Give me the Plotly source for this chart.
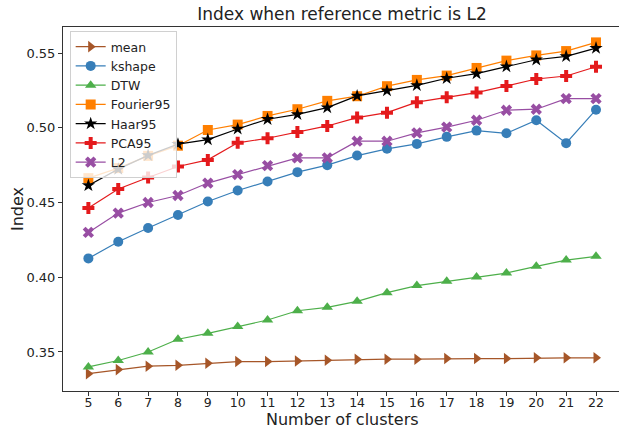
import plotly.graph_objects as go

clusters = list(range(5, 23))

mean = [0.3355, 0.3382, 0.3405, 0.3411, 0.3424, 0.3436, 0.3436, 0.3440, 0.3445,
        0.3452, 0.3452, 0.3452, 0.3456, 0.3456, 0.3456, 0.3461, 0.3461, 0.3461]
kshape = [0.4126, 0.4237, 0.4329, 0.4416, 0.4507, 0.4580, 0.4640, 0.4703, 0.4750,
          0.4814, 0.4859, 0.4892, 0.4939, 0.4981, 0.4963, 0.5050, 0.4897, 0.5121]
dtw = [0.3400, 0.3443, 0.3500, 0.3585, 0.3625, 0.3670, 0.3714, 0.3776, 0.3799,
       0.3839, 0.3897, 0.3944, 0.3973, 0.4001, 0.4028, 0.4073, 0.4115, 0.4140]
fourier95 = [0.4663, 0.4730, 0.4812, 0.4880, 0.4985, 0.5021, 0.5079, 0.5124, 0.5180,
             0.5211, 0.5278, 0.5320, 0.5349, 0.5400, 0.5449, 0.5484, 0.5513, 0.5571]
haar95 = [0.4614, 0.4723, 0.4815, 0.4890, 0.4921, 0.4992, 0.5057, 0.5090, 0.5135,
          0.5213, 0.5248, 0.5284, 0.5331, 0.5362, 0.5409, 0.5455, 0.5478, 0.5533]
pca95 = [0.4463, 0.4590, 0.4667, 0.4741, 0.4785, 0.4899, 0.4930, 0.4972, 0.5012,
         0.5068, 0.5101, 0.5171, 0.5204, 0.5235, 0.5280, 0.5326, 0.5346, 0.5408]
l2 = [0.4300, 0.4429, 0.4500, 0.4547, 0.4630, 0.4687, 0.4747, 0.4799, 0.4799,
      0.4910, 0.4910, 0.4966, 0.5004, 0.5050, 0.5117, 0.5124, 0.5195, 0.5195]

series = [
    ("mean", mean, "#a65628", "triangle-right", 10),
    ("kshape", kshape, "#377eb8", "circle", 10),
    ("DTW", dtw, "#4daf4a", "triangle-up", 10),
    ("Fourier95", fourier95, "#ff7f00", "square", 10),
    ("Haar95", haar95, "#000000", "star", 10),
    ("PCA95", pca95, "#e41a1c", "cross", 10),
    ("L2", l2, "#984ea3", "x", 10),
]

fig = go.Figure()
for name, vals, color, sym, size in series:
    fig.add_trace(go.Scatter(
        x=clusters, y=vals, name=name, mode="lines+markers",
        line=dict(color=color, width=1.2),
        marker=dict(symbol=sym, size=size, color=color, line=dict(width=0)),
    ))

font = "DejaVu Sans"
txt = "#222222"
W, H = 619, 428
L, T, B = 63, 27, 37
PH = H - T - B
fig.update_layout(
    width=W, height=H,
    margin=dict(l=L, r=0, t=T, b=B, autoexpand=False),
    paper_bgcolor="white", plot_bgcolor="white",
    font=dict(family=font, color=txt),
    title=dict(text="Index when reference metric is L2", x=342 / W, xanchor="center",
               y=1 - 14 / H, yanchor="middle", font=dict(size=17, family=font, color=txt)),
    showlegend=True,
    legend=dict(x=0.012, y=1 + (T - 31) / PH, xanchor="left", yanchor="top",
                bgcolor="rgba(255,255,255,0.8)", bordercolor="#d0d0d0", borderwidth=1,
                font=dict(size=12.5, family=font, color=txt), itemwidth=30,
                tracegroupgap=0),
    annotations=[
        dict(text="Number of clusters", xref="paper", yref="paper",
             x=0.5 + (342 - (L + (W - L) / 2)) / (W - L), y=-(419 - (H - B)) / PH,
             xanchor="center", yanchor="middle", showarrow=False,
             font=dict(size=16, family=font, color=txt)),
        dict(text="Index", xref="paper", yref="paper",
             x=-(L - 17) / (W - L), y=0.5, textangle=-90,
             xanchor="center", yanchor="middle", showarrow=False,
             font=dict(size=16, family=font, color=txt)),
    ],
)
fig.update_xaxes(
    range=[4.15, 22.77], tickmode="array", tickvals=clusters,
    ticktext=[str(c) for c in clusters], automargin=False,
    showgrid=False, zeroline=False, showline=True, linecolor="#333333", linewidth=1,
    mirror=True, ticks="outside", ticklen=4, tickcolor="#333333",
    tickfont=dict(size=12.5, family=font, color=txt), ticklabelstandoff=-4,
)
fig.update_yaxes(
    range=[0.3239, 0.5674], tickmode="array", tickvals=[0.35, 0.40, 0.45, 0.50, 0.55],
    ticktext=["0.35", "0.40", "0.45", "0.50", "0.55"], automargin=False,
    showgrid=False, zeroline=False, showline=True, linecolor="#333333", linewidth=1,
    mirror=False, ticks="outside", ticklen=4, tickcolor="#333333",
    tickfont=dict(size=13, family=font, color=txt),
)

fig.write_html("out.html", config={"displayModeBar": False},
               post_script="document.body.style.margin='0';document.body.style.overflow='hidden';")
